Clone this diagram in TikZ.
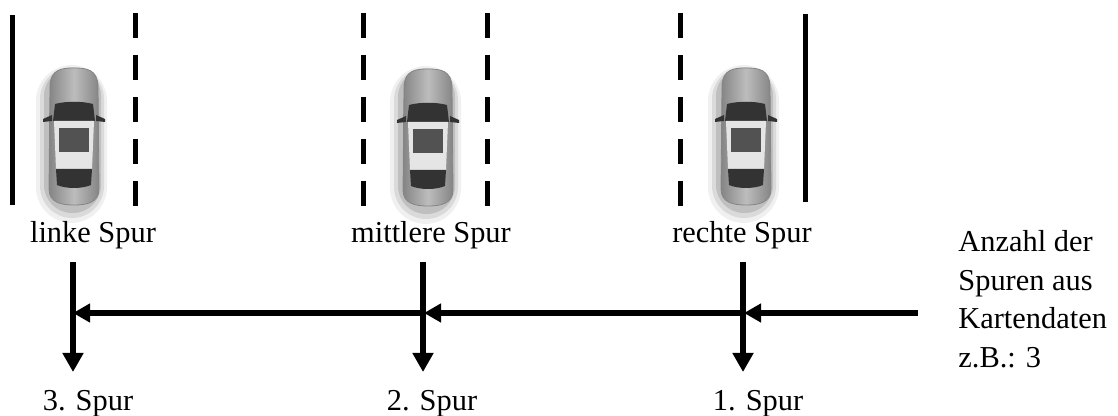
\documentclass[tikz,border=0pt]{standalone}
\usepackage{fontspec}
\setmainfont{Liberation Serif}
\usepackage{xcolor}
\usetikzlibrary{arrows.meta}

\definecolor{carbody}{gray}{0.74}
\definecolor{carside}{gray}{0.52}
\definecolor{carlight}{gray}{0.9}
\definecolor{cardark}{gray}{0.2}

\begin{document}
\begin{tikzpicture}[x=0.5pt, y=-0.5pt,
  every node/.style={font=\fontsize{15.2}{19.2}\selectfont, inner sep=0pt},
  solidlane/.style={line width=2.5pt},
  dashlane/.style={line width=2.5pt, dash pattern=on 12.5pt off 8.5pt},
  flow/.style={line width=3pt, -{Triangle[length=8.5pt, width=9pt]}},
  down/.style={line width=3pt, -{Triangle[length=9.5pt, width=10pt]}},
  car/.pic={
    \fill[black, opacity=0.06, rounded corners=18] (-38,-72) rectangle (33,86);
    \fill[black, opacity=0.09, rounded corners=16] (-34,-70) rectangle (30,81);
    \fill[black, opacity=0.12, rounded corners=14] (-30,-69) rectangle (27,76);
    \shade[left color=carside, right color=carside, middle color=carbody, draw=carside]
      (-24,-50) .. controls (-24,-68) and (-12,-69) .. (0,-69)
      .. controls (12,-69) and (24,-68) .. (24,-50)
      -- (25,52) .. controls (25,66) and (12,68) .. (0,68)
      .. controls (-12,68) and (-25,66) .. (-25,52) -- cycle;
    \fill[cardark] (-22,-22) -- (-31,-18) -- (-31,-15) -- (-22,-16) -- cycle;
    \fill[cardark] (22,-22) -- (31,-18) -- (31,-15) -- (22,-16) -- cycle;
    \fill[cardark] (-19,-33) .. controls (-8,-36) and (8,-36) .. (19,-33)
      -- (21,-16) -- (-21,-16) -- cycle;
    \fill[carlight] (-20,-16) -- (20,-16) -- (18,32) -- (-18,32) -- cycle;
    \fill[cardark!85] (-15,-9) rectangle (15,15);
    \fill[cardark] (-18,32) -- (18,32) -- (17,48) .. controls (8,52) and (-8,52) .. (-17,48) -- cycle;
  }]
  \useasboundingbox (0,0) rectangle (1118,416);

  % lanes
  \draw[solidlane] (12,15) -- (12,205);
  \draw[dashlane] (135,13) -- (135,206);
  \draw[dashlane] (363,13) -- (363,206);
  \draw[dashlane] (487,13) -- (487,206);
  \draw[dashlane] (680,13) -- (680,206);
  \draw[solidlane] (805,14) -- (805,202);

  % cars
  \pic at (74,137) {car};
  \pic at (428,138) {car};
  \pic at (746,137) {car};

  \node[anchor=base] (links) at (93,243) {linke Spur};
  \node[anchor=base] (mitte) at (431,243) {mittlere Spur};
  \node[anchor=base] (rechts) at (742,243) {rechte Spur};

  \node[anchor=base] (s3) at (88,410) {3. Spur};
  \node[anchor=base] (s2) at (432,410) {2. Spur};
  \node[anchor=base] (s1) at (758,410) {1. Spur};

  \node[anchor=base west, align=left] (anzahl) at (958,367)
    {Anzahl der\\Spuren aus\\Kartendaten\\z.B.: 3};

  % arrows
  \coordinate (t3) at (73,262);  \coordinate (b3) at (73,372);
  \coordinate (t2) at (423,262); \coordinate (b2) at (423,372);
  \coordinate (t1) at (743,262); \coordinate (b1) at (743,372);
  \coordinate (j3) at (73,313);
  \coordinate (j2) at (424,313);
  \coordinate (j1) at (744,313);
  \coordinate (src) at (918,313);
  \draw[down] (t3) -- (b3);
  \draw[down] (t2) -- (b2);
  \draw[down] (t1) -- (b1);
  \draw[flow] (src) -- (j1);
  \draw[flow] (j1) -- (j2);
  \draw[flow] (j2) -- (j3);
\end{tikzpicture}
\end{document}
